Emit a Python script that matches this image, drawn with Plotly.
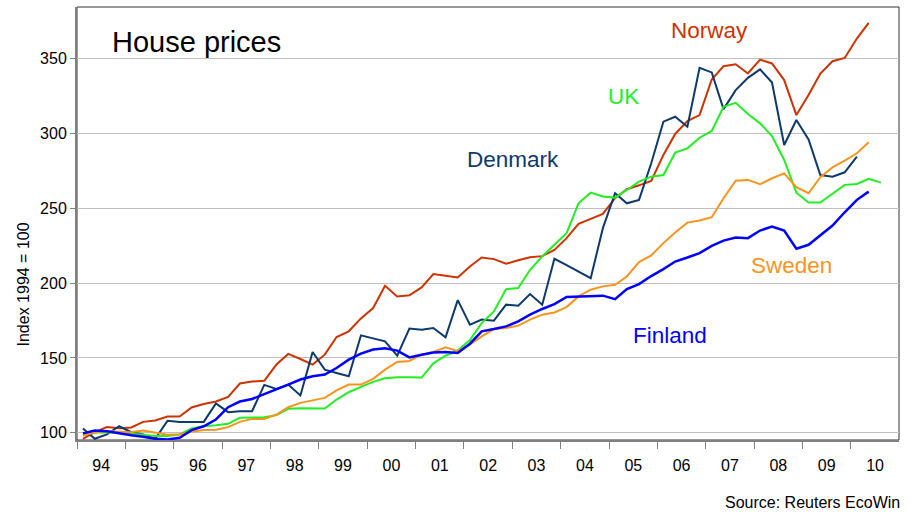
import plotly.graph_objects as go

# ---------------- data (quarterly, 1994Q1 onward, index 1994 = 100) ----------------
norway = [96, 100.5, 103.8, 103.1, 103.6, 107.3, 108.2, 110.9, 110.9, 116.9,
          119.3, 120.9, 124, 132.9, 134.2, 134.7, 145.6, 152.7, 149.3, 145.6,
          152.2, 164, 167.8, 176.4, 183.3, 198.2, 191.1, 191.8, 197.1, 206,
          204.9, 203.8, 211.1, 217.1, 216, 212.9, 215.3, 217.3, 218, 222.2,
          230, 239.6, 242.9, 246.2, 256.7, 262.7, 265.3, 268.2, 285.6, 299.6,
          308.2, 312.2, 336, 344.9, 346.2, 340, 349.3, 346.7, 335.6, 312.2,
          325.6, 340, 348.2, 350.4, 363.3, 373.8]
denmark = [102.9, 96, 98.9, 104.4, 100.4, 98.9, 96, 108, 107.3, 107.3,
           107.3, 119.6, 113.8, 114.4, 114.4, 132, 129.3, 132.2, 124.9, 154,
           142.2, 140, 137.8, 165.1, 163.3, 161.1, 151.6, 169.6, 168.9, 170,
           163.8, 188.6, 172.2, 175.6, 174.9, 185.6, 184.9, 192.7, 185.6, 216.2,
           212, 207.6, 203.3, 236.7, 260, 253.3, 255.6, 280, 307.8, 311.1,
           304.4, 343.8, 340.7, 316.2, 328.9, 337.1, 342.7, 334, 292.2, 308.9,
           296, 272.2, 271.1, 274, 284.4]
uk = [98.9, 100, 100.4, 99.6, 99.3, 98.7, 97.8, 97.8, 98.9, 102.9,
      104.4, 105.1, 106, 110, 110.4, 110.4, 111.8, 116, 116.4, 116.4,
      116.2, 122.2, 127.1, 130.7, 134, 136.4, 137.1, 137.1, 136.9, 146.4,
      151.5, 155, 162, 173.3, 181.1, 196, 196.7, 208.9, 217.8, 225.6,
      233.3, 253.3, 260.4, 257.8, 257.1, 262.2, 267.8, 271.1, 272.2, 287.1,
      290, 297.1, 301.6, 317.8, 320.4, 312.9, 306.7, 298.2, 282.2, 260.4,
      253.8, 253.8, 260, 265.6, 266.2, 269.6, 267.1]
sweden = [98.2, 100.4, 101.1, 100.7, 100.4, 101.6, 100, 98.7, 99.1, 100.7,
          101.8, 102, 103.8, 107.3, 109.3, 109.3, 112.2, 117.1, 120, 121.6,
          123.3, 128.4, 132.2, 132.2, 136, 142.2, 147.3, 148, 152.2, 154,
          157.1, 154.5, 158.9, 164.4, 169.3, 170, 171.6, 175.6, 178.9, 180.4,
          184, 191.1, 195.6, 197.8, 198.9, 204.4, 214, 218.5, 226.7, 233.8,
          240.4, 241.8, 244, 256.7, 268.4, 268.9, 266, 270, 273.3, 264,
          260, 270.7, 277.3, 281.8, 286.7, 294]
finland = [99.6, 101.6, 101.1, 99.6, 98.4, 97.3, 96, 95.6, 96.7, 101.8,
           104.4, 108.9, 117.1, 120.9, 122.6, 125.8, 128.9, 132.2, 135.6, 137.8,
           138.9, 143.3, 148.9, 152.9, 155.6, 156.4, 154.9, 150.4, 152.2, 153.6,
           154, 153.3, 159.5, 167.8, 169.3, 171.1, 174.4, 178.9, 182.7, 186,
           190.7, 191.1, 191.1, 191.6, 189.3, 196, 199.3, 204.7, 209.3, 214.4,
           217.1, 220, 224.9, 228.4, 230.4, 230, 235.1, 237.8, 235.1, 222.9,
           225.6, 232.2, 238.4, 247.3, 255.6, 261.1]

start_year = 1994
y_ticks = [100, 150, 200, 250, 300, 350]


def quarter_dates(n):
    months = [2, 5, 8, 11]
    return [f"{start_year + i // 4}-{months[i % 4]:02d}-15" for i in range(n)]


series = [
    ("Norway", norway, "#CC3300", 2),
    ("Denmark", denmark, "#0D3A6B", 2),
    ("UK", uk, "#22EE22", 2),
    ("Sweden", sweden, "#F7941D", 2),
    ("Finland", finland, "#0000FF", 2.5),
]

FONT = "Liberation Sans, Arial, sans-serif"

fig = go.Figure()
for name, vals, color, w in series:
    fig.add_trace(go.Scatter(x=quarter_dates(len(vals)), y=vals, mode="lines",
                             name=name, line=dict(color=color, width=w)))

# plot area geometry in pixels (for placing annotations)
L, R, T, B = 77, 16, 7, 75
W, H = 915, 515
pw, ph = W - L - R, H - T - B


def px(x):
    return (x - L) / pw


def py(y):
    return (H - B - y) / ph


annos = [
    dict(text="House prices", x=px(110), y=py(42), size=29, color="black", xanchor="left"),
    dict(text="Norway", x=px(669), y=py(31), size=22.5, color="#CC3300", xanchor="left"),
    dict(text="UK", x=px(605.5), y=py(97), size=22.5, color="#22EE22", xanchor="left"),
    dict(text="Denmark", x=px(465), y=py(159.5), size=22.5, color="#0D3A6B", xanchor="left"),
    dict(text="Sweden", x=px(748.5), y=py(265), size=22.5, color="#F7941D", xanchor="left"),
    dict(text="Finland", x=px(631), y=py(335.5), size=22.5, color="#0000FF", xanchor="left"),
    dict(text="Source: Reuters EcoWin", x=px(902), y=py(502.5), size=16, color="black", xanchor="right"),
]
for a in annos:
    fig.add_annotation(text=a["text"], x=a["x"], y=a["y"], xref="paper", yref="paper",
                       xanchor=a["xanchor"], yanchor="middle", showarrow=False,
                       font=dict(family=FONT, size=a["size"], color=a["color"]))

fig.add_annotation(text="Index 1994 = 100", x=px(22.5), y=py(285), xref="paper", yref="paper",
                   xanchor="center", yanchor="middle", showarrow=False, textangle=-90,
                   font=dict(family=FONT, size=16, color="black"))

fig.add_shape(type="rect", xref="paper", yref="paper", x0=0, x1=1, y0=0, y1=1,
              line=dict(color="#333333", width=1), layer="below")

fig.update_layout(
    width=W, height=H,
    margin=dict(l=L, r=R, t=T, b=B, pad=0),
    paper_bgcolor="white", plot_bgcolor="white",
    showlegend=False,
    font=dict(family=FONT, size=16, color="black"),
    xaxis=dict(type="date", range=["1994-01-01", "2010-12-30"],
               tick0="1994-01-01", dtick="M12", ticklabelmode="period", tickformat="%y",
               ticks="outside", ticklen=7, tickcolor="#808080", tickwidth=1,
               ticklabelstandoff=3,
               showgrid=False, showline=True, linecolor="#808080", linewidth=2,
               zeroline=False, tickfont=dict(size=16)),
    yaxis=dict(range=[95.2, 384.4], tickvals=y_ticks,
               ticks="outside", ticklen=5, tickcolor="#808080", tickwidth=1,
               showgrid=True, gridcolor="#C0C0C0", gridwidth=1,
               showline=True, linecolor="#808080", linewidth=2,
               zeroline=False, tickfont=dict(size=16)),
)

fig.write_html("out.html", config={"displayModeBar": False},
               post_script="document.body.style.margin='0px';")
